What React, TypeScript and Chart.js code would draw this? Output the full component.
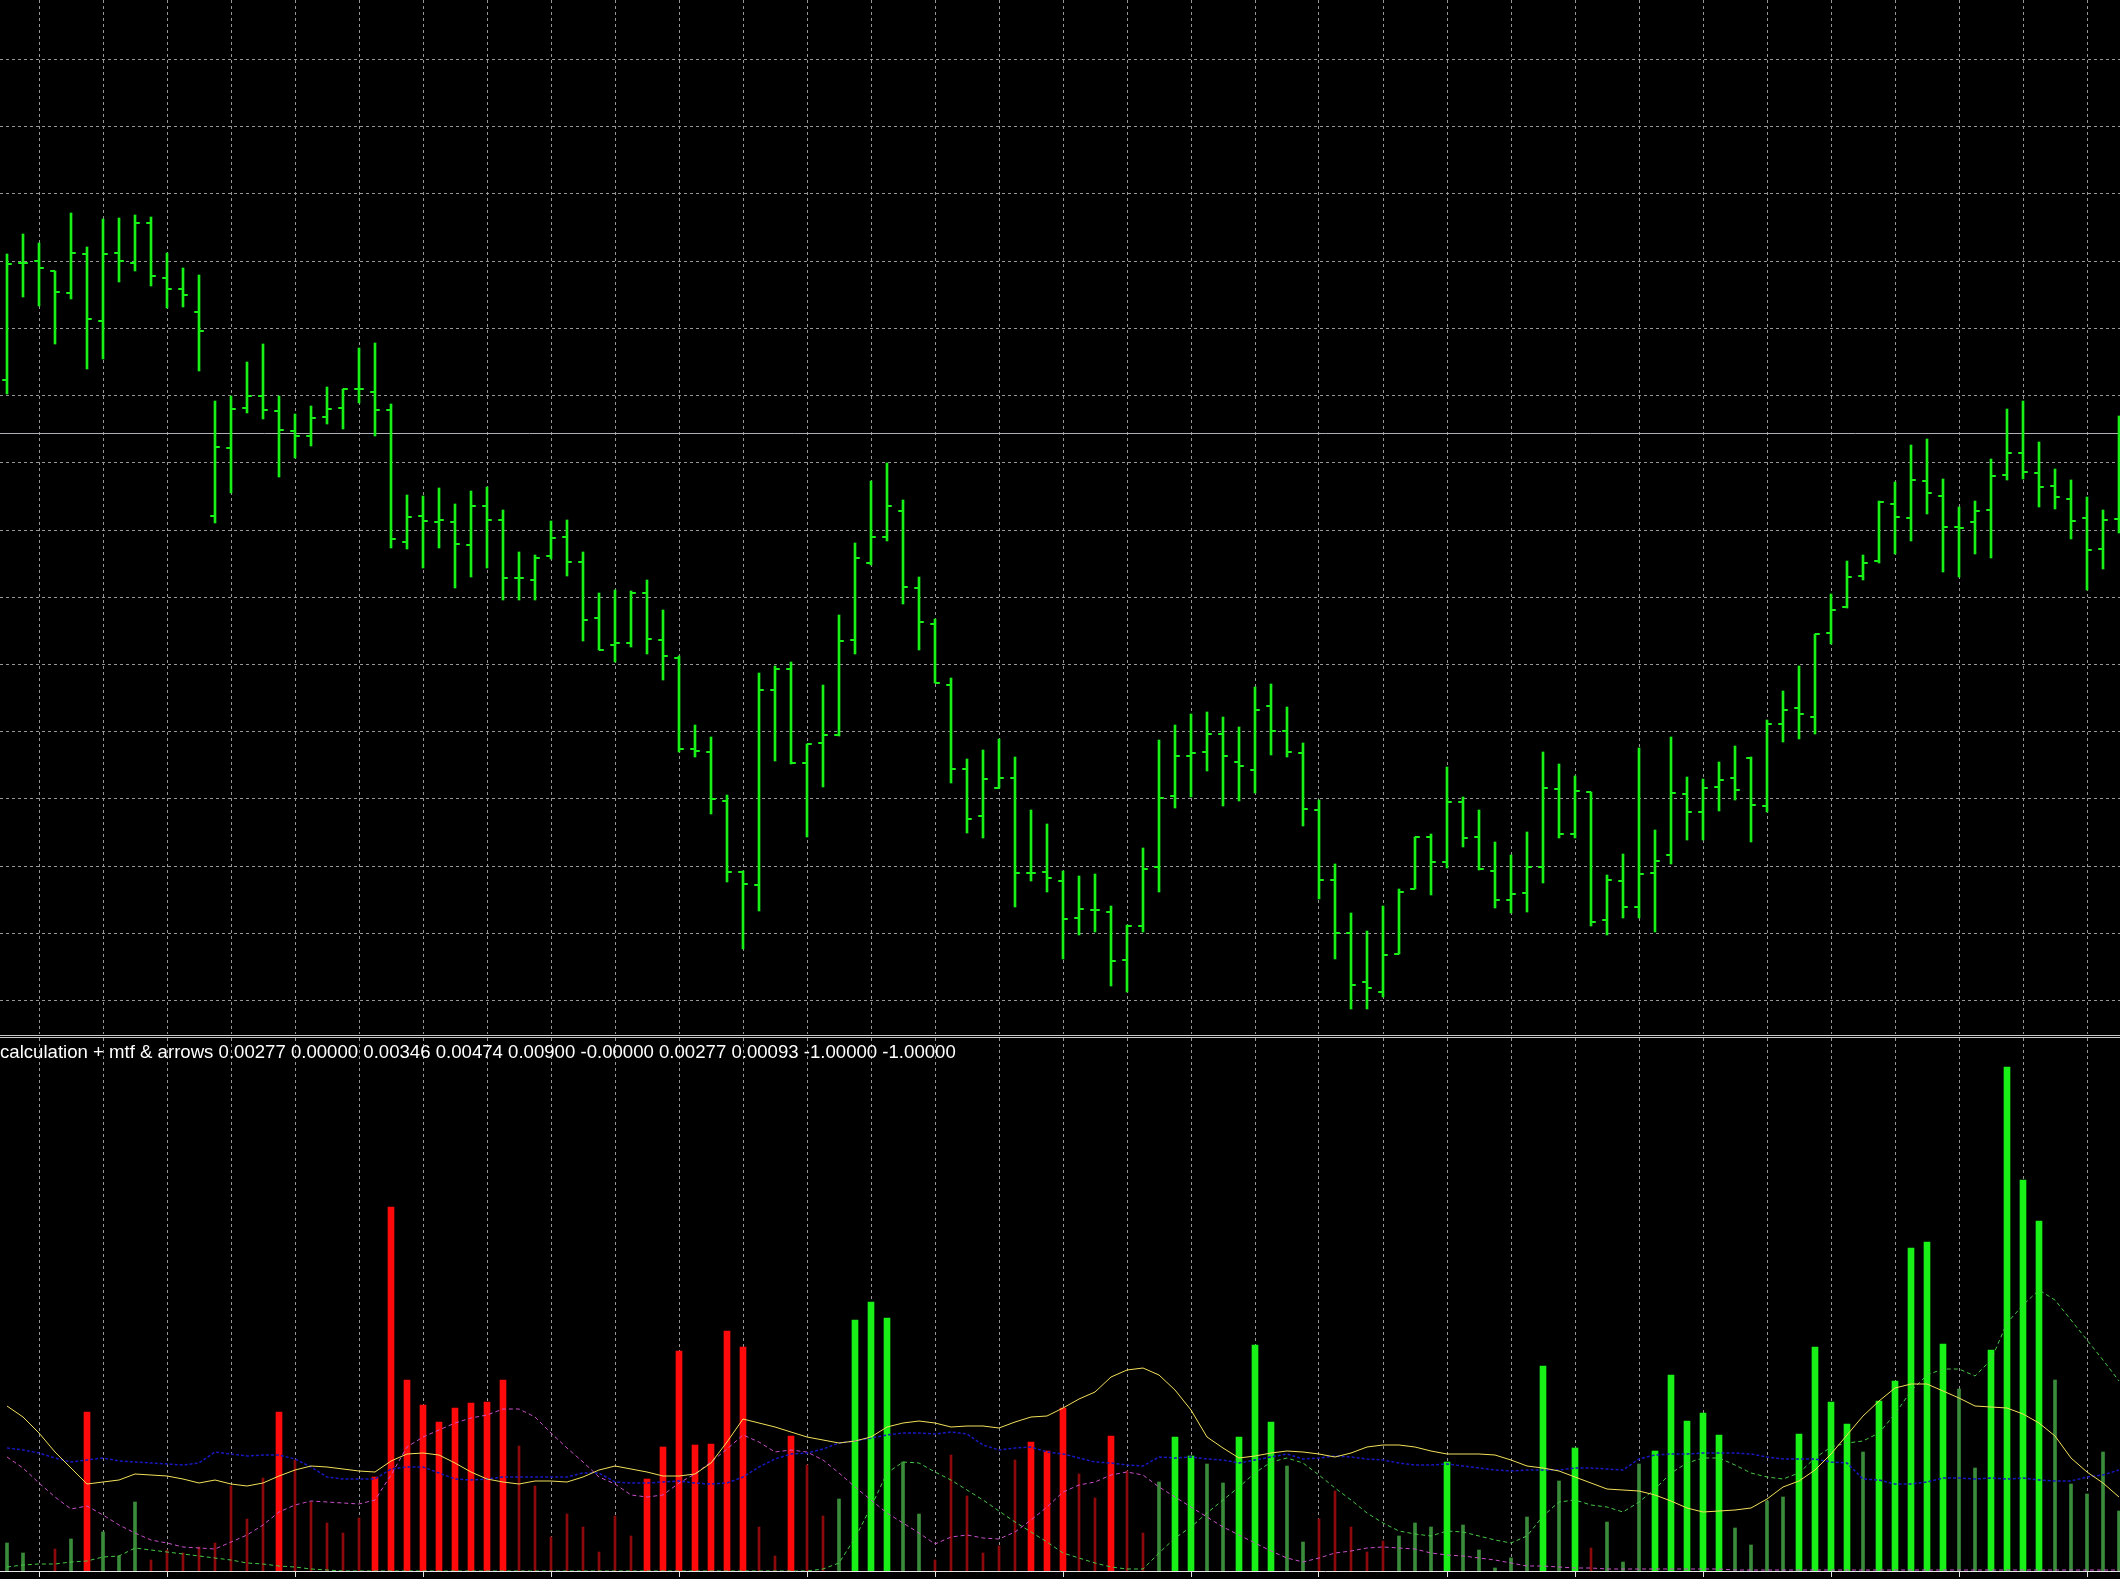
import React, { useEffect, useRef } from 'react';
import { Chart, registerables } from 'chart.js';

Chart.register(...registerables);

// ---------- layout constants ----------
const W = 2120;
const TOP_H = 1034;
const BOTTOM_TOP = 1038;
const BOTTOM_H = 541;
const X_MIN = -0.4375;
const X_MAX = 132.0625;

// ---------- price pane (points) ----------
const openP = [654,771,773,763,741,780,713,781,771,811,756,745,722,518,586,626,638,623,603,598,617,626,645,642,624,492,518,512,512,489,528,514,456,454,478,497,472,416,389,391,441,394,376,285,282,233,162,149,344,365,271,291,299,394,471,497,523,446,410,349,265,218,246,256,161,162,153,116,124,122,74,108,167,238,278,282,300,272,264,328,303,281,224,154,101,52,42,80,145,197,172,232,197,163,134,141,167,245,200,242,114,153,127,161,179,240,222,247,256,276,228,310,326,317,401,427,458,473,530,516,553,538,507,512,524,559,581,561,548,535,516,485,515];
const highP = [780,800,791,763,821,787,815,816,819,817,781,766,759,633,638,672,690,638,620,628,647,645,686,691,630,539,538,546,530,543,547,524,482,479,513,514,482,441,444,443,454,424,378,309,297,239,163,361,368,372,290,349,419,491,553,571,534,457,415,356,275,284,295,277,224,210,163,158,160,128,109,186,294,309,320,322,317,307,347,350,327,291,234,170,121,103,128,145,197,200,267,237,224,192,179,202,282,270,258,242,159,180,286,204,297,257,255,272,288,277,314,343,368,400,440,473,479,533,552,589,595,555,527,533,575,625,633,592,565,554,537,524,618];
const lowP = [640,737,728,690,735,665,675,752,763,748,726,727,663,511,541,621,615,557,576,588,610,605,631,598,486,485,466,486,446,457,466,434,434,434,475,458,393,384,372,387,380,354,282,277,220,152,85,123,273,270,197,247,298,380,469,493,430,384,351,251,201,196,246,127,153,142,75,99,102,48,42,102,142,226,237,263,228,233,241,279,277,208,135,75,25,25,37,80,145,139,166,187,164,126,121,122,151,196,196,108,99,116,116,102,170,194,194,223,234,192,222,292,295,300,390,426,454,471,480,493,520,462,457,480,476,554,555,527,525,495,444,465,501];
const closeP = [770,771,766,742,781,715,780,773,811,758,745,739,703,587,625,638,624,604,598,616,625,645,645,624,495,517,513,514,490,528,514,456,456,476,496,472,414,384,391,441,395,378,285,283,235,162,150,344,365,271,290,299,393,476,497,528,447,412,351,265,215,255,256,161,161,156,115,125,124,73,108,165,236,278,281,300,278,268,324,303,282,225,154,101,49,46,79,142,197,172,232,196,165,134,140,167,246,200,243,112,154,127,160,173,241,222,246,254,244,229,310,324,320,400,424,457,471,532,517,554,541,507,506,523,558,581,562,547,537,513,484,514,529];
const bidLevel = 600.5;
const priceGrid = [974.4, 907.2, 840, 772.8, 705.6, 638.4, 571.2, 504, 436.8, 369.6, 302.4, 235.2, 168, 100.8, 33.6];
const timeGrid = [2,6,10,14,18,22,26,30,34,38,42,46,50,54,58,62,66,70,74,78,82,86,90,94,98,102,106,110,114,118,122,126,130];
const timeMarks = [2,10,18,26,34,42,50,58,66,74,82,90,98,106,114,122,130];

// ---------- indicator pane ----------
const strongDownIdx = [5,17,23,24,25,26,27,28,29,30,31,40,41,42,43,44,45,46,49,64,65,66,69];
const strongDownVal = [159,159,94,364,191,166,149,163,168,169,191,92,124,220,126,127,240,224,135,129,120,163,135];
const strongUpIdx = [53,54,55,73,74,77,78,79,90,96,98,103,104,105,106,107,112,113,114,115,117,118,119,120,121,124,125,126,127];
const strongUpVal = [251,269,253,134,115,134,226,149,109,205,123,120,196,150,158,136,137,224,169,147,170,190,323,329,227,221,504,391,350];
const weakDownIdx = [3,9,10,11,12,13,14,15,16,18,19,20,21,22,32,33,34,35,36,37,38,39,47,48,50,51,58,59,60,61,62,63,67,68,70,71,82,83,84,85,86,99];
const weakDownVal = [22,11,21,18,24,28,85,52,93,111,69,48,38,53,125,85,34,57,44,19,55,35,44,15,106,55,11,116,75,18,25,111,97,73,100,38,52,80,44,19,30,23];
const weakUpIdx = [0,1,4,6,7,8,52,56,57,72,75,76,80,81,87,88,89,91,92,93,94,95,97,100,101,102,108,109,110,111,116,122,123,128,129,130,131,132];
const weakUpVal = [28,18,32,39,15,69,72,109,57,89,107,88,105,29,35,48,44,46,21,3,13,54,90,49,9,107,43,26,70,74,119,182,103,191,87,77,119,60];

const yellowLine = [165,154,138,119,103,87,89,91,97,96,95,92,88,91,87,85,88,95,101,105,104,102,100,99,110,117,118,116,108,99,92,89,87,90,90,89,94,101,105,102,99,95,95,97,108,129,152,148,144,139,134,131,128,130,134,144,148,150,148,144,145,145,143,149,154,155,163,172,179,194,201,203,196,181,161,134,123,113,115,118,120,119,117,114,118,124,126,126,124,120,117,117,117,116,111,105,103,100,94,88,82,81,80,76,70,63,59,60,61,63,72,84,90,101,117,136,155,170,183,187,187,180,173,165,164,163,157,148,135,113,99,88,74];
const blueLine = [123,121,118,113,109,111,113,110,109,108,107,106,108,119,117,115,116,116,112,104,94,92,92,92,102,104,104,98,92,91,92,94,94,94,94,94,98,98,89,88,88,89,90,88,87,88,94,104,112,117,118,122,128,130,133,136,138,138,137,139,137,126,121,123,124,119,117,113,109,108,106,105,114,113,114,112,111,108,111,114,117,112,113,115,114,112,111,108,106,106,107,105,103,101,100,101,101,101,103,103,102,101,112,116,117,117,118,118,118,117,114,112,112,112,109,108,92,91,87,87,89,93,93,92,93,92,93,91,90,90,94,96,101];
const magentaLine = [114,103,88,74,62,65,56,46,38,31,28,24,23,22,29,36,46,59,66,70,69,68,67,71,96,124,134,141,148,153,156,162,162,154,138,123,109,94,87,76,74,76,88,97,109,122,136,129,119,121,119,111,98,84,71,58,48,38,27,34,36,33,32,39,51,64,79,86,89,96,99,96,84,74,64,54,44,36,28,20,13,9,13,18,20,23,24,23,22,18,16,15,13,11,8,5,5,4,3,3,2,2,2,2,2,2,2,2,1,1,1,1,1,1,1,1,1,1,1,1,1,1,1,1,1,1,1,1,1,1,1,1,1];
const greenLine = [4,6,7,7,9,10,14,15,23,21,19,17,15,13,11,8,7,5,4,2,1,0,0,0,0,0,0,0,0,0,0,0,0,0,0,0,0,0,0,0,0,0,0,0,0,0,0,0,0,0,0,2,8,33,64,98,109,108,99,91,81,71,60,49,39,29,18,13,8,4,2,2,18,33,44,58,71,84,98,109,113,108,96,83,71,58,48,40,37,35,40,39,35,31,28,35,55,69,71,66,64,59,69,82,98,108,113,113,106,98,94,92,98,113,124,128,130,138,157,180,196,202,202,195,211,248,266,281,271,251,231,211,190];

const headerText = 'calculation + mtf & arrows 0.00277 0.00000 0.00346 0.00474 0.00900 -0.00000 0.00277 0.00093 -1.00000 -1.00000';

// ---------- colours ----------
const BAR_GREEN = 'rgb(24,240,24)';
const GRID = 'rgb(150,150,150)';
const STRONG_RED = '#ff0a0a';
const STRONG_GREEN = 'rgb(24,240,24)';
const WEAK_RED = '#8c0a0a';
const WEAK_GREEN = '#3a8c3a';

const xScale = (extra: any = {}) => ({
  type: 'linear',
  min: X_MIN,
  max: X_MAX,
  offset: false,
  grid: { display: true, color: GRID, lineWidth: 1, offset: false, drawTicks: false, ...(extra.grid || {}) },
  border: { display: false, dash: [3, 3], ...(extra.border || {}) },
  ticks: { display: false, autoSkip: false },
  afterBuildTicks: (axis: any) => {
    axis.ticks = timeGrid.map((v) => ({ value: v }));
  },
});

export default function App() {
  const topRef = useRef<HTMLCanvasElement | null>(null);
  const botRef = useRef<HTMLCanvasElement | null>(null);

  useEffect(() => {
    const idx = openP.map((_, i) => i);
    const top = new Chart(topRef.current as HTMLCanvasElement, {
      type: 'bar',
      data: {
        datasets: [
          {
            type: 'line',
            data: [{ x: X_MIN - 1, y: bidLevel }, { x: X_MAX + 1, y: bidLevel }],
            borderColor: '#aeaeb8',
            borderWidth: 1,
            pointRadius: 0,
            order: 5,
          } as any,
          {
            type: 'bar',
            data: idx.map((i) => ({ x: i, y: [lowP[i], highP[i]] })),
            backgroundColor: BAR_GREEN,
            borderWidth: 0,
            barThickness: 2,
            grouped: false,
            order: 3,
          } as any,
          {
            type: 'scatter',
            data: idx.map((i) => ({ x: i - 0.15, y: openP[i] })),
            pointStyle: 'line',
            pointRadius: 2.4,
            pointBorderWidth: 2,
            pointBorderColor: BAR_GREEN,
            pointBackgroundColor: BAR_GREEN,
            order: 1,
          } as any,
          {
            type: 'scatter',
            data: idx.map((i) => ({ x: i + 0.15, y: closeP[i] })),
            pointStyle: 'line',
            pointRadius: 2.4,
            pointBorderWidth: 2,
            pointBorderColor: BAR_GREEN,
            pointBackgroundColor: BAR_GREEN,
            order: 1,
          } as any,
        ],
      },
      options: {
        responsive: false,
        maintainAspectRatio: false,
        animation: false,
        devicePixelRatio: 1,
        events: [],
        layout: { autoPadding: false, padding: 0 },
        plugins: { legend: { display: false }, tooltip: { enabled: false } },
        scales: {
          x: xScale() as any,
          y: {
            type: 'linear',
            min: 0,
            max: TOP_H,
            grid: { display: true, color: GRID, lineWidth: 1, drawTicks: false },
            border: { display: false, dash: [3, 3] },
            ticks: { display: false },
            afterBuildTicks: (axis: any) => {
              axis.ticks = priceGrid.map((v) => ({ value: v }));
            },
          } as any,
        },
      },
    });

    const bot = new Chart(botRef.current as HTMLCanvasElement, {
      type: 'bar',
      data: {
        datasets: [
          {
            type: 'line',
            data: yellowLine.map((v, i) => ({ x: i, y: v })),
            borderColor: '#f2e05a',
            borderWidth: 1,
            pointRadius: 0,
            tension: 0,
            order: 0,
          } as any,
          {
            type: 'line',
            data: blueLine.map((v, i) => ({ x: i, y: v })),
            borderColor: '#1818c0',
            borderWidth: 1.5,
            borderDash: [3, 2],
            pointRadius: 0,
            tension: 0,
            order: 0,
          } as any,
          {
            type: 'line',
            data: magentaLine.map((v, i) => ({ x: i, y: v })),
            borderColor: '#c850c8',
            borderWidth: 1,
            borderDash: [4, 3],
            pointRadius: 0,
            tension: 0,
            order: 0,
          } as any,
          {
            type: 'line',
            data: greenLine.map((v, i) => ({ x: i, y: v })),
            borderColor: '#46c846',
            borderWidth: 1,
            borderDash: [4, 3],
            pointRadius: 0,
            tension: 0,
            order: 0,
          } as any,
          {
            type: 'bar',
            data: strongDownIdx.map((x, k) => ({ x, y: strongDownVal[k] })),
            backgroundColor: STRONG_RED,
            borderWidth: 0,
            barThickness: 6,
            grouped: false,
            order: 2,
          } as any,
          {
            type: 'bar',
            data: strongUpIdx.map((x, k) => ({ x, y: strongUpVal[k] })),
            backgroundColor: STRONG_GREEN,
            borderWidth: 0,
            barThickness: 6,
            grouped: false,
            order: 2,
          } as any,
          {
            type: 'bar',
            data: weakDownIdx.map((x, k) => ({ x, y: weakDownVal[k] })),
            backgroundColor: WEAK_RED,
            borderWidth: 0,
            barThickness: 2,
            grouped: false,
            order: 3,
          } as any,
          {
            type: 'bar',
            data: weakUpIdx.map((x, k) => ({ x, y: weakUpVal[k] })),
            backgroundColor: WEAK_GREEN,
            borderWidth: 0,
            barThickness: 3,
            grouped: false,
            order: 3,
          } as any,
        ],
      },
      options: {
        responsive: false,
        maintainAspectRatio: false,
        animation: false,
        devicePixelRatio: 1,
        events: [],
        layout: { autoPadding: false, padding: { left: 0, right: 0, top: 0, bottom: 2 } },
        plugins: { legend: { display: false }, tooltip: { enabled: false } },
        scales: {
          x: xScale({
            grid: {
              drawTicks: true,
              tickLength: 6,
              tickWidth: 1,
              tickColor: (c: any) =>
                c.tick && timeMarks.includes(c.tick.value) ? '#e6e6e6' : 'rgba(0,0,0,0)',
            },
            border: { display: true, color: '#e6e6e6', width: 1, dash: [3, 3] },
          }) as any,
          y: {
            type: 'linear',
            display: false,
            min: 0,
            max: 533,
          } as any,
        },
      },
    });

    return () => {
      top.destroy();
      bot.destroy();
    };
  }, []);

  return (
    <div
      style={{
        position: 'fixed',
        left: 0,
        top: 0,
        width: W,
        height: 1579,
        background: '#000',
        overflow: 'hidden',
      }}
    >
      <canvas
        ref={topRef}
        width={W}
        height={TOP_H}
        style={{ position: 'absolute', left: 0, top: 0, width: W, height: TOP_H }}
      />
      <div style={{ position: 'absolute', left: 0, top: 1035, width: W, height: 1, background: '#c8c8c8' }} />
      <div style={{ position: 'absolute', left: 0, top: 1037, width: W, height: 1, background: '#c8c8c8' }} />
      <canvas
        ref={botRef}
        width={W}
        height={BOTTOM_H}
        style={{ position: 'absolute', left: 0, top: BOTTOM_TOP, width: W, height: BOTTOM_H }}
      />
      <div
        style={{
          position: 'absolute',
          left: 0,
          top: 1041,
          color: '#ffffff',
          font: '18.6px "Liberation Sans", Arial, sans-serif',
          whiteSpace: 'nowrap',
          zIndex: 2,
        }}
      >
        {headerText}
      </div>
    </div>
  );
}
